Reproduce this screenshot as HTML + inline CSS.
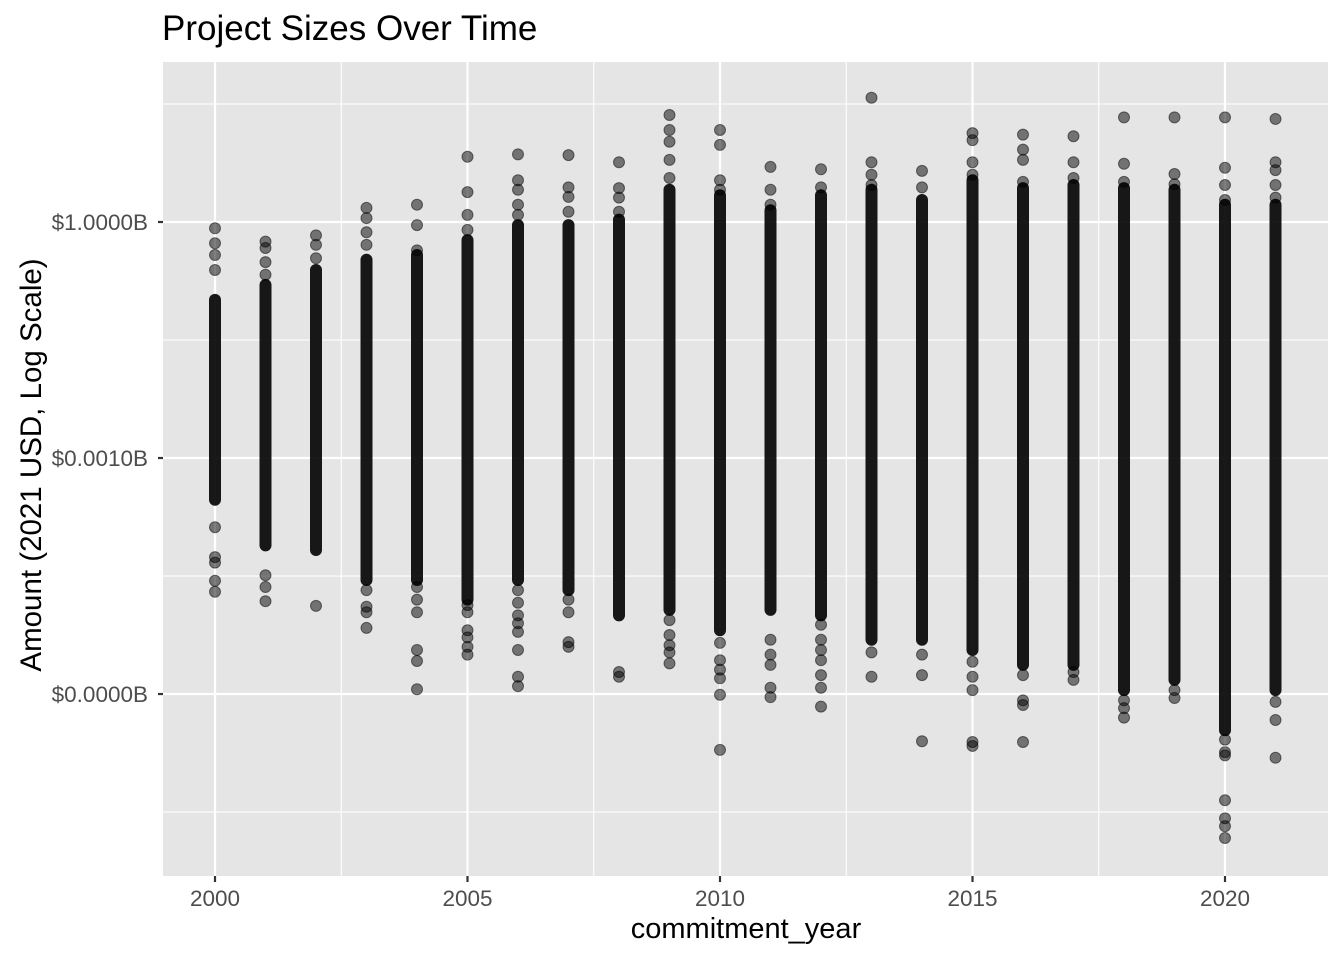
<!DOCTYPE html>
<html><head><meta charset="utf-8"><style>
html,body{margin:0;padding:0;background:#fff;}
svg{display:block;font-family:"Liberation Sans",Arial,sans-serif;}
</style></head><body>
<svg id="chart" width="1344" height="960" xmlns="http://www.w3.org/2000/svg">
<text x="162" y="40" font-size="35" fill="#000">Project Sizes Over Time</text>
<rect x="163" y="62" width="1165" height="814" fill="#e5e5e5"/>
<g id="grid"></g>
<g id="marks"></g>
<g id="axes"></g>
<text x="746" y="938" font-size="29" text-anchor="middle" fill="#000">commitment_year</text>
<text transform="translate(41,465) rotate(-90)" font-size="29.5" text-anchor="middle" fill="#000">Amount (2021 USD, Log Scale)</text>
</svg>
<script>
// values in log10(amount in $B)
const years = [2000,2001,2002,2003,2004,2005,2006,2007,2008,2009,2010,2011,2012,2013,2014,2015,2016,2017,2018,2019,2020,2021];
const bandHigh = [-0.99,-0.80,-0.61,-0.48,-0.42,-0.23,-0.04,-0.04,0.03,0.41,0.34,0.15,0.34,0.41,0.28,0.53,0.43,0.47,0.43,0.41,0.22,0.22];
const bandLow = [-3.53,-4.11,-4.17,-4.55,-4.55,-4.80,-4.55,-4.68,-5.00,-4.93,-5.19,-4.93,-5.00,-5.31,-5.31,-5.44,-5.63,-5.63,-5.95,-5.82,-6.46,-5.95];
const outliers = [
 [-0.08,-0.27,-0.42,-0.61,-3.88,-4.26,-4.33,-4.56,-4.70],
 [-0.25,-0.33,-0.51,-0.67,-4.49,-4.64,-4.82],
 [-0.17,-0.29,-0.46,-4.88],
 [0.18,0.05,-0.13,-0.29,-4.68,-4.89,-4.96,-5.16],
 [0.22,-0.04,-0.36,-4.64,-4.80,-4.96,-5.44,-5.58,-5.94],
 [0.83,0.38,0.09,-0.10,-4.87,-4.96,-5.19,-5.28,-5.40,-5.50],
 [0.86,0.53,0.41,0.22,0.09,-4.68,-4.84,-5.00,-5.10,-5.21,-5.44,-5.78,-5.90],
 [0.85,0.44,0.32,0.13,-4.80,-4.96,-5.34,-5.40],
 [0.76,0.43,0.31,0.13,-5.72,-5.78],
 [1.36,1.17,1.02,0.79,0.56,-5.06,-5.25,-5.38,-5.47,-5.61],
 [1.17,0.98,0.53,0.41,-5.35,-5.57,-5.69,-5.80,-6.01,-6.71],
 [0.70,0.41,0.22,-5.31,-5.50,-5.63,-5.92,-6.04],
 [0.67,0.44,-5.12,-5.31,-5.44,-5.57,-5.76,-5.92,-6.16],
 [1.58,0.76,0.60,0.47,-5.47,-5.78],
 [0.65,0.44,-5.50,-5.76,-6.60],
 [1.13,1.04,0.76,0.60,-5.59,-5.78,-5.95,-6.61,-6.66],
 [1.11,0.92,0.79,0.51,-5.76,-6.08,-6.14,-6.61],
 [1.09,0.76,0.56,-5.72,-5.82],
 [1.33,0.74,0.51,-6.08,-6.18,-6.30],
 [1.33,0.61,0.48,-5.95,-6.05],
 [1.33,0.69,0.47,0.28,-6.58,-6.74,-6.78,-7.35,-7.58,-7.68,-7.83],
 [1.31,0.76,0.66,0.47,0.31,-6.10,-6.33,-6.81]
];
const xTicks = [2000,2005,2010,2015,2020];
const xTickLabels = ["2000","2005","2010","2015","2020"];
const yTicks = [0,-3,-6];
const yTickLabels = ["$1.0000B","$0.0010B","$0.0000B"];
const yMinor = [1.5,-1.5,-4.5,-7.5];
const xMinor = [2002.5,2007.5,2012.5,2017.5];

const NS="http://www.w3.org/2000/svg";
const L=163,R=1328,T=62,B=876;
const xs = v => 215 + (v-2000)*50.5;
const ys = v => 222 - v*78.67;
function mk(tag, attrs, parent){const e=document.createElementNS(NS,tag);for(const k in attrs)e.setAttribute(k,attrs[k]);parent.appendChild(e);return e;}
const grid=document.getElementById('grid'), marks=document.getElementById('marks'), axes=document.getElementById('axes');
yMinor.forEach(v=>{const e=mk('line',{x1:L,x2:R,y1:ys(v),y2:ys(v),stroke:'#fff','stroke-width':1.1},grid);

});
xMinor.forEach(v=>{const e=mk('line',{x1:xs(v),x2:xs(v),y1:T,y2:B,stroke:'#fff','stroke-width':1.1},grid);

});
yTicks.forEach((v,i)=>{const e=mk('line',{x1:L,x2:R,y1:ys(v),y2:ys(v),stroke:'#fff','stroke-width':2.2},grid);


const t=mk('line',{x1:L-5,x2:L,y1:ys(v),y2:ys(v),stroke:'#333','stroke-width':2.2},axes);


const lb=mk('text',{x:L-15,y:ys(v)+8,'font-size':22.5,'text-anchor':'end',fill:'#4d4d4d'},axes);lb.textContent=yTickLabels[i];

});
xTicks.forEach((v,i)=>{const e=mk('line',{x1:xs(v),x2:xs(v),y1:T,y2:B,stroke:'#fff','stroke-width':2.2},grid);


const t=mk('line',{x1:xs(v),x2:xs(v),y1:B,y2:B+6,stroke:'#333','stroke-width':2.2},axes);


const lb=mk('text',{x:xs(v),y:906,'font-size':22.5,'text-anchor':'middle',fill:'#4d4d4d'},axes);lb.textContent=xTickLabels[i];

});
years.forEach((yr,i)=>{
 const x=xs(yr), y1=ys(bandHigh[i]), y2=ys(bandLow[i]);
 const band=mk('rect',{x:x-6,y:y1-6,width:12,height:(y2-y1)+12,rx:6,ry:6,fill:'#000','fill-opacity':0.9},marks);
 
 
 outliers[i].forEach(v=>{const c=mk('circle',{cx:x,cy:ys(v),r:5.5,fill:'#000','fill-opacity':0.5,stroke:'#000','stroke-opacity':0.5,'stroke-width':1},marks);
 
 });
});
</script>
</body></html>
